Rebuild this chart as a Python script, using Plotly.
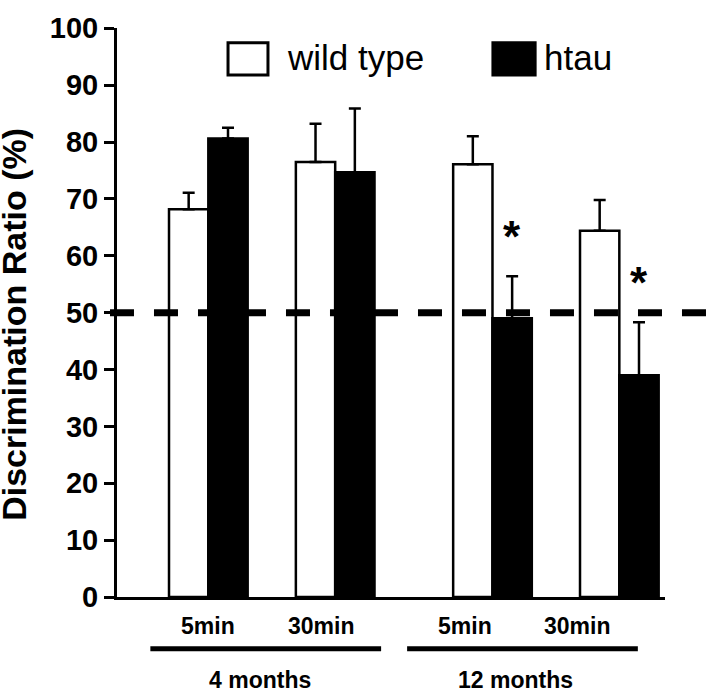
import plotly.graph_objects as go

# ---- data ----
conditions = ["4 months 5min", "4 months 30min", "12 months 5min", "12 months 30min"]
group_pos = [0, 1, 2.24, 3.24]
wild_type = [68.2, 76.5, 76.1, 64.4]
wild_type_err = [2.9, 6.7, 4.9, 5.4]
htau = [80.6, 74.7, 49.0, 39.0]
htau_err = [1.9, 11.2, 7.4, 9.3]
series_names = ["wild type", "htau"]
delay_labels = ["5min", "30min", "5min", "30min"]
delay_label_pos = [0.0, 0.89, 2.02, 2.91]
age_labels = ["4 months", "12 months"]
age_label_pos = [0.41, 2.42]
age_line_spans = [(-0.457, 1.362), (1.567, 3.386)]
chance_level = 50
sig_flags = [False, False, True, True]
y_ticks = list(range(0, 101, 10))

FONT = "Liberation Sans, Arial, Helvetica, sans-serif"

fig = go.Figure()
fig.add_trace(go.Bar(
    x=group_pos, y=wild_type, name=series_names[0],
    marker=dict(color="white", line=dict(color="black", width=2.5)),
    error_y=dict(type="data", array=wild_type_err, arrayminus=[0]*4, symmetric=False,
                 color="black", thickness=2.5, width=6),
    showlegend=False,
))
fig.add_trace(go.Bar(
    x=group_pos, y=htau, name=series_names[1],
    marker=dict(color="black", line=dict(color="black", width=2.5)),
    error_y=dict(type="data", array=htau_err, arrayminus=[0]*4, symmetric=False,
                 color="black", thickness=2.5, width=6),
    showlegend=False,
))

fig.update_layout(
    width=720, height=691,
    margin=dict(l=117, r=55, t=15, b=94),
    paper_bgcolor="white", plot_bgcolor="white",
    barmode="group", bargap=0.38, bargroupgap=0,
    font=dict(family=FONT, color="black"),
    xaxis=dict(range=[-0.72, 3.6], showticklabels=False, ticks="", showgrid=False,
               zeroline=False, showline=True, linecolor="black", linewidth=3),
    yaxis=dict(range=[0, 100.05], tickvals=y_ticks, ticks="outside", ticklen=10, tickwidth=3,
               tickcolor="black", showgrid=False, zeroline=False, showline=True,
               linecolor="black", linewidth=3, ticklabeloverflow="allow",
               tickfont=dict(family=FONT, size=29, weight="bold", color="black")),
)

# y-axis title
fig.add_annotation(text="Discrimination Ratio (%)", textangle=-90, xref="paper", yref="paper",
                   x=-0.188, y=0.48, showarrow=False, xanchor="center", yanchor="middle",
                   font=dict(family=FONT, size=34, weight="bold"))

# chance level dashed line
fig.add_shape(type="line", xref="paper", yref="y", x0=-0.0128, x1=1.1,
              y0=chance_level, y1=chance_level, layer="above",
              line=dict(color="black", width=7, dash="24px,20px"))

# delay labels
for lbl, xp in zip(delay_labels, delay_label_pos):
    fig.add_annotation(text=lbl, x=xp, xref="x", y=-0.0515, yref="paper", showarrow=False,
                       xanchor="center", yanchor="middle",
                       font=dict(family=FONT, size=23, weight="bold"))
# age group lines and labels
for (a, b) in age_line_spans:
    fig.add_shape(type="line", xref="x", yref="paper", x0=a, x1=b, y0=-0.091, y1=-0.091,
                  line=dict(color="black", width=5))
for lbl, xp in zip(age_labels, age_label_pos):
    fig.add_annotation(text=lbl, x=xp, xref="x", y=-0.146, yref="paper", showarrow=False,
                       xanchor="center", yanchor="middle",
                       font=dict(family=FONT, size=23, weight="bold"))

# significance stars
for xp, v, e, s in zip(group_pos, htau, htau_err, sig_flags):
    if s:
        fig.add_annotation(text="*", x=xp + 0.1575, xref="x", y=v + e, yref="y",
                           showarrow=False, yshift=40, xanchor="center", yanchor="middle",
                           font=dict(family=FONT, size=44, weight="bold"))

# legend (manual)
fig.add_shape(type="rect", xref="paper", yref="paper", x0=0.2026, x1=0.2755, y0=0.9175, y1=0.974,
              line=dict(color="black", width=3), fillcolor="white")
fig.add_shape(type="rect", xref="paper", yref="paper", x0=0.686, x1=0.763, y0=0.9175, y1=0.974,
              line=dict(color="black", width=3), fillcolor="black")
fig.add_annotation(text=series_names[0], xref="paper", yref="paper", x=0.307, y=0.948,
                   showarrow=False, xanchor="left", yanchor="middle",
                   font=dict(family=FONT, size=35))
fig.add_annotation(text=series_names[1], xref="paper", yref="paper", x=0.776, y=0.948,
                   showarrow=False, xanchor="left", yanchor="middle",
                   font=dict(family=FONT, size=35))

fig.write_html("out.html", config={"displayModeBar": False},
               post_script="document.body.style.margin='0';")
